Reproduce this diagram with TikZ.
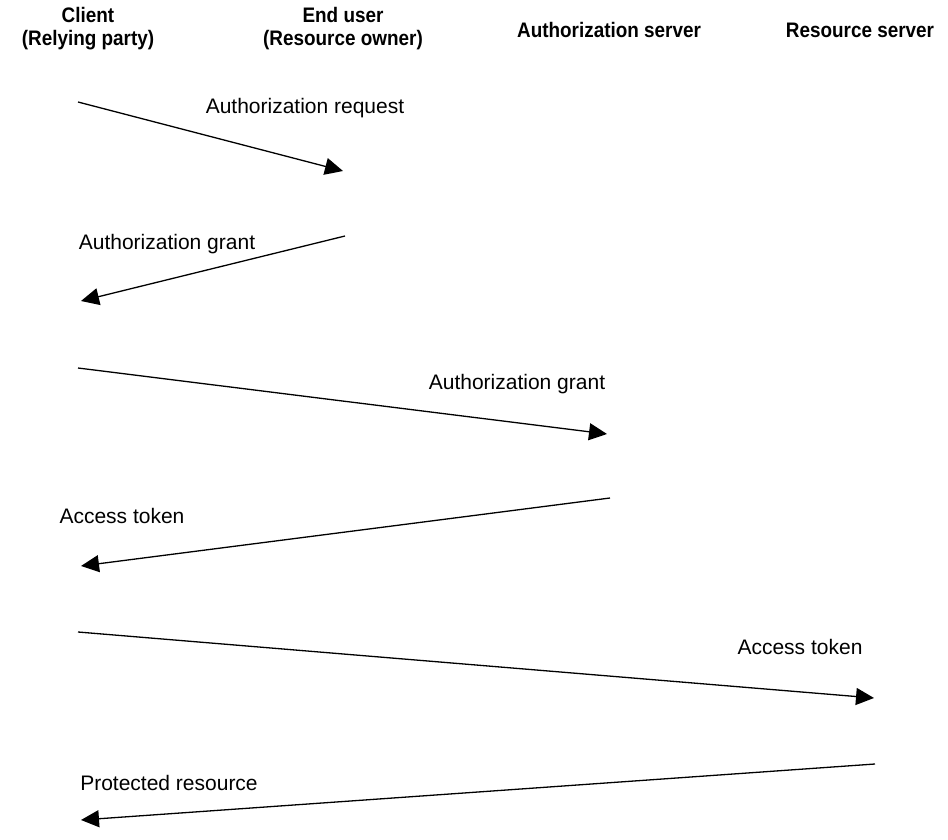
\documentclass[tikz,border=0pt]{standalone}
\usepackage{fontspec}
\setmainfont{Liberation Sans}
\newfontfamily\headfont[FakeStretch=0.9]{Liberation Sans}
\usepackage{xcolor}
\usetikzlibrary{arrows.meta,positioning}
\definecolor{ink}{HTML}{000000}
\tikzset{
  partyhead/.style={
    font=\headfont\bfseries\fontsize{21}{23}\selectfont, text=ink,
    align=center, inner sep=0pt
  },
  msglabel/.style={
    font=\fontsize{21}{24}\selectfont, text=ink, inner sep=0pt
  },
  msgarrow/.style={
    draw=ink, line width=1.3pt,
    -{Triangle[length=18pt,width=17pt]}
  }
}
\begin{document}
\begin{tikzpicture}[x=1pt,y=-1pt]
  \useasboundingbox (0,0) rectangle (948,840);
  % participants
  \node[partyhead] (client) at (88,29) {Client\\(Relying party)};
  \node[partyhead] (user) at (343,29) {End user\\(Resource owner)};
  \node[partyhead] (authsrv) at (609,30) {Authorization server};
  \node[partyhead] (ressrv) at (860,30) {Resource server};
  % message end points
  \coordinate (c1) at (78,102);   \coordinate (u1) at (343,171);
  \coordinate (u2) at (345,236);  \coordinate (c2) at (81,301);
  \coordinate (c3) at (78,368);   \coordinate (a3) at (607,434);
  \coordinate (a4) at (610,498);  \coordinate (c4) at (81,566);
  \coordinate (c5) at (78,632);   \coordinate (r5) at (874,698);
  \coordinate (r6) at (875,764);  \coordinate (c6) at (81,820);
  % messages
  \draw[msgarrow] (c1) -- (u1);
  \draw[msgarrow] (u2) -- (c2);
  \draw[msgarrow] (c3) -- (a3);
  \draw[msgarrow] (a4) -- (c4);
  \draw[msgarrow] (c5) -- (r5);
  \draw[msgarrow] (r6) -- (c6);
  % labels
  \node[msglabel] (req) at (305,108) {Authorization request};
  \node[msglabel] (grant1) at (167,244) {Authorization grant};
  \node[msglabel] (grant2) at (517,384) {Authorization grant};
  \node[msglabel] (token1) at (122,516) {Access token};
  \node[msglabel] (token2) at (800,647) {Access token};
  \node[msglabel] (resource) at (169,783) {Protected resource};
\end{tikzpicture}
\end{document}
